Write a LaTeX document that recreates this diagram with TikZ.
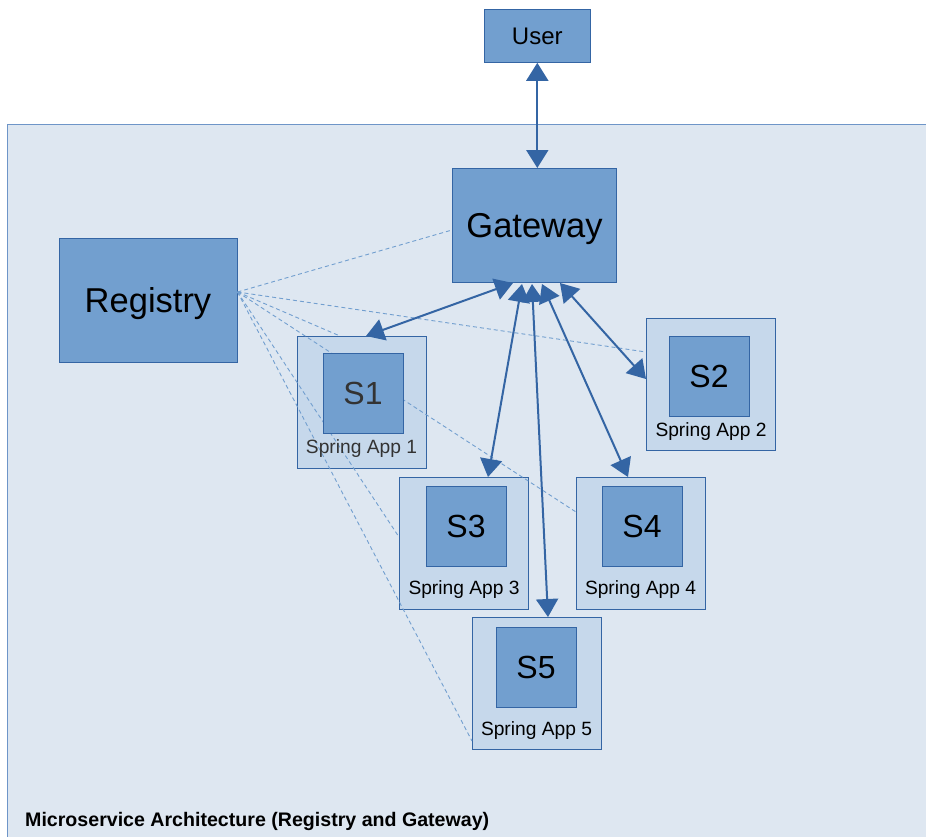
\documentclass[tikz,border=0pt]{standalone}
\usepackage{fontspec}
\setmainfont{Liberation Sans}
\usetikzlibrary{arrows.meta}
\definecolor{contfill}{HTML}{DEE7F1}
\definecolor{contline}{HTML}{6E95C8}
\definecolor{boxfill}{HTML}{729FCF}
\definecolor{boxline}{HTML}{3465A4}
\definecolor{appfill}{HTML}{C6D8EB}
\definecolor{arrowc}{HTML}{3465A4}
\definecolor{dashc}{HTML}{729FCF}
\definecolor{dimtext}{HTML}{333333}
\begin{document}
\begin{tikzpicture}[x=1pt,y=-1pt,
  bigbox/.style={draw=boxline, fill=boxfill, line width=1pt, inner sep=0pt, text=black, text depth=0pt},
  appbox/.style={draw=boxline, fill=appfill, line width=1pt, inner sep=0pt, minimum width=129pt, minimum height=132pt},
  innerbox/.style={draw=boxline, fill=boxfill, line width=1pt, inner sep=0pt, minimum width=80pt, minimum height=80pt, font=\fontsize{32}{38}\selectfont},
  applabel/.style={inner sep=0pt, font=\fontsize{19.2}{22}\selectfont},
  regline/.style={draw=dashc, line width=0.9pt, dash pattern=on 4pt off 3pt},
  link/.style={draw=arrowc, line width=2pt, {Triangle[length=18pt,width=22pt]}-{Triangle[length=18pt,width=22pt]}}
]
\useasboundingbox (0,0) rectangle (926,836);
\begin{scope}
\clip (0,0) rectangle (926,836);
\path[fill=contfill, draw=contline, line width=1pt] (7.5,124) rectangle (940,850);
\end{scope}

% outer app boxes
\node[appbox] (a1) at (361.5,402) {};
\node[appbox] (a2) at (711,384) {};
\node[appbox] (a3) at (464,543) {};
\node[appbox] (a4) at (640.5,543) {};
\node[appbox] (a5) at (536.5,683.5) {};

% main boxes
\node[bigbox, minimum width=106pt, minimum height=53pt, font=\fontsize{24}{28}\selectfont] (user) at (537.3,35.8) {User};
\node[bigbox, minimum width=164pt, minimum height=114pt, font=\fontsize{34.5}{41}\selectfont] (gw) at (534.5,225.5) {Gateway};
\node[bigbox, minimum width=178pt, minimum height=124pt, font=\fontsize{34.5}{41}\selectfont] (reg) at (148,300) {Registry};

% registry connection points
\coordinate (rp) at (237.5,292);
\coordinate (dg) at (452,230);
\coordinate (d1) at (340,336);
\coordinate (d2) at (646,352);
\coordinate (d3) at (399,537);
\coordinate (d4) at (576,512);
\coordinate (d5) at (472,741);
\draw[regline] (rp) -- (dg);
\draw[regline] (rp) -- (d1);
\draw[regline] (rp) -- (d2);
\draw[regline] (rp) -- (d3);
\draw[regline] (rp) -- (d4);
\draw[regline] (rp) -- (d5);

% inner service boxes and labels
\node[innerbox, text=dimtext] (s1) at (363,393) {S1};
\node[innerbox] (s2) at (709,376) {S2};
\node[innerbox] (s3) at (466,526) {S3};
\node[innerbox] (s4) at (642,526) {S4};
\node[innerbox] (s5) at (536,667) {S5};
\node[applabel, text=dimtext] (l1) at (361.5,449) {Spring App 1};
\node[applabel] (l2) at (711,432) {Spring App 2};
\node[applabel] (l3) at (464,590) {Spring App 3};
\node[applabel] (l4) at (640.5,590) {Spring App 4};
\node[applabel] (l5) at (536.5,731) {Spring App 5};

% arrow attachment points
\coordinate (g1) at (513,283);
\coordinate (g3) at (522,284);
\coordinate (g5) at (532,284);
\coordinate (g4) at (542,284);
\coordinate (g2) at (560,283);
\coordinate (t1) at (366,336);
\coordinate (t2) at (646,379);
\coordinate (t3) at (488,477);
\coordinate (t4) at (628,477);
\coordinate (t5) at (548,617);

\draw[link] (user.south) -- (user.south |- gw.north);
\draw[link] (g1) -- (t1);
\draw[link] (g3) -- (t3);
\draw[link] (g5) -- (t5);
\draw[link] (g4) -- (t4);
\draw[link] (g2) -- (t2);

\node[anchor=base west, inner sep=0pt, font=\bfseries\fontsize{19.6}{23}\selectfont] (title) at (25,826) {Microservice Architecture (Registry and Gateway)};
\end{tikzpicture}
\end{document}
